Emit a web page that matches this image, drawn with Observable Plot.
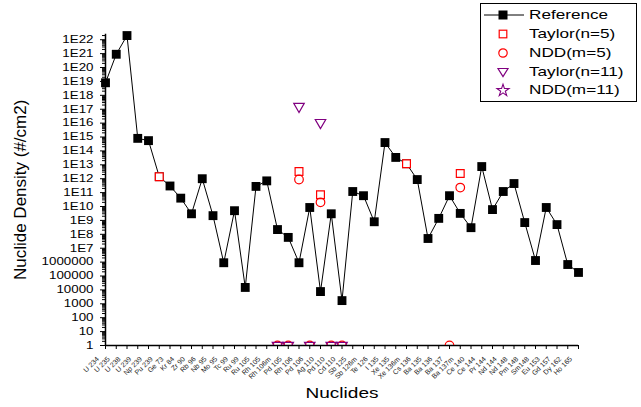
<!DOCTYPE html>
<html><head><meta charset="utf-8">
<script src="https://cdn.jsdelivr.net/npm/d3@7"></script>
<script src="https://cdn.jsdelivr.net/npm/@observablehq/plot@0.6"></script>
<style>
body{margin:0;background:#fff;font-family:"Liberation Sans",Arial,sans-serif;}
#wrap{position:relative;width:641px;height:407px;overflow:hidden;}
#legend{position:absolute;left:480px;top:3px;width:157px;height:99px;border:1px solid #000;box-sizing:border-box;background:#fff;}
.row{position:absolute;left:0;height:18px;width:100%;}
.row svg{position:absolute;left:0;top:0;}
.row span{position:absolute;left:48px;top:0;font-size:13.5px;line-height:18px;transform:scaleX(1.27);transform-origin:left center;white-space:nowrap;color:#000;}
</style></head>
<body>
<div id="wrap"><div id="chart"></div><div id="legend"></div></div>
<script>
const nuclides = ["U 234","U 235","U 238","U 239","Np 239","Pu 239","Ge 73","Kr 84","Zr 90","Rb 96","Nb 95","Mo 95","Tc 99","Ru 99","Ru 105","Rh 105","Rh 106m","Pd 105","Rh 106","Pd 106","Ag 110","Pd 110","Cd 110","Sb 125","Sb 126m","Te 126","I 135","Xe 135","Xe 136m","Cs 136","Ba 135","Ba 136","Ba 137","Ba 137m","Ce 140","Ce 144","Pr 144","Nd 144","Nd 148","Pm 148","Sm148","Eu 153","Gd 157","Dy 162","Ho 165"];
const referenceValues = [8e18,9e20,2e22,8e14,5.5e14,1.4e12,3e11,4e10,3e9,1e12,2.2e9,9e5,5e9,1.5e4,2.8e11,7e11,2.2e8,6e7,9e5,8.5e9,7.6e3,3e9,1.7e3,1.2e11,6e10,8e8,4e14,3.4e13,1.2e13,8.7e11,5e7,1.4e9,6e10,3.2e9,3e8,7.5e12,6e9,1.2e11,4.5e11,7e8,1.3e6,8.5e9,5e8,6.7e5,1.8e5];

const taylor5Nuclides = ["Pu 239","Rh 106","Ag 110","Xe 136m","Ba 137m"];
const taylor5Values = [1.4e12,3.3e12,7e10,1.2e13,2.4e12];

const ndd5Nuclides = ["Rh 106m","Pd 105","Rh 106","Pd 106","Ag 110","Pd 110","Cd 110","Ba 137","Ba 137m"];
const ndd5Values = [1,1,8.8e11,1,2e10,1,1,1,2.3e11];

const taylor11Nuclides = ["Rh 106m","Pd 105","Rh 106","Pd 106","Ag 110","Pd 110","Cd 110"];
const taylor11Values = [1,1,1.6e17,1,1.1e16,1,1];

const ndd11Nuclides = [];
const ndd11Values = [];

const yMajorExponents = d3.range(0, 23);
const yTitle = "Nuclide Density (#/cm2)";
const xTitle = "Nuclides";
const legendLabels = ["Reference","Taylor(n=5)","NDD(m=5)","Taylor(n=11)","NDD(m=11)"];

const RED = "#ff0000", PURPLE = "#800080";
const zip = (names, vals) => names.map((n, i) => ({nuclide: n, value: vals[i]}));
const refData = zip(nuclides, referenceValues);
const t5 = zip(taylor5Nuclides, taylor5Values);
const n5 = zip(ndd5Nuclides, ndd5Values);
const t11 = zip(taylor11Nuclides, taylor11Values);
const n11 = zip(ndd11Nuclides, ndd11Values);

const majors = yMajorExponents.map(e => Math.pow(10, e));
const minors = [];
for (const e of yMajorExponents) for (let k = 2; k <= 9; k++) { const v = k * Math.pow(10, e); if (v <= 2.5e22) minors.push(v); }
const fmt = v => { const e = Math.round(Math.log10(v)); return e >= 7 ? "1E" + e : String(Math.round(v)); };

const chart = Plot.plot({
  width: 641, height: 407,
  marginLeft: 105, marginRight: 63, marginTop: 33.7, marginBottom: 62,
  style: {fontFamily: "Liberation Sans, Arial, sans-serif", background: "#fff", color: "#000"},
  x: {type: "point", domain: nuclides, padding: 0},
  y: {type: "log", domain: [1, 2.5e22]},
  marks: [
    Plot.axisY({ticks: minors, tickSize: 3, tickFormat: () => "", label: null}),
    Plot.axisY({ticks: majors, tickSize: 5, tickPadding: 7, tickFormat: fmt, fontSize: 10.5, label: null}),
    Plot.axisX({tickSize: 4, tickFormat: () => "", label: null}),
    Plot.ruleY([1], {stroke: "#000", strokeWidth: 1.5}),
    Plot.ruleX([nuclides[0]], {stroke: "#000", strokeWidth: 1.5}),
    Plot.text(nuclides, {x: d => d, text: d => d, frameAnchor: "bottom", dy: 14, dx: -6, rotate: -45, textAnchor: "end", fontSize: 7, fill: "#222"}),
    Plot.text([yTitle], {text: d => d, frameAnchor: "left", dx: -85, rotate: -90, textAnchor: "middle", fontSize: 17}),
    Plot.text([xTitle], {text: d => d, frameAnchor: "bottom", dy: 52, textAnchor: "middle", fontSize: 15}),
    Plot.line(refData, {x: "nuclide", y: "value", stroke: "#000", strokeWidth: 1}),
    Plot.dot(refData, {x: "nuclide", y: "value", symbol: "square", r: 5, fill: "#000", stroke: "none"}),
    Plot.dot(t5, {x: "nuclide", y: "value", symbol: "square", r: 4.4, fill: "#fff", stroke: RED, strokeWidth: 1.2, clip: true}),
    Plot.dot(n5, {x: "nuclide", y: "value", symbol: "circle", r: 4.3, fill: "none", stroke: RED, strokeWidth: 1.2, clip: true}),
    Plot.dot(t11, {x: "nuclide", y: "value", symbol: "triangle", rotate: 180, r: 3.9, fill: "none", stroke: PURPLE, strokeWidth: 1.2, clip: true}),
    Plot.dot(n11, {x: "nuclide", y: "value", symbol: "star", r: 4, fill: "none", stroke: PURPLE, strokeWidth: 1.2, clip: true})
  ]
});
document.getElementById("chart").appendChild(chart);

// stretch non-rotated, non-empty text horizontally to mimic the reference's wide lettering
chart.querySelectorAll("text").forEach(t => {
  if (!t.textContent) return;
  let rotated = false;
  for (let el = t; el && el !== chart; el = el.parentNode) {
    const tr = el.getAttribute && el.getAttribute("transform");
    if (tr && tr.includes("rotate")) rotated = true;
  }
  if (rotated) return;
  const x = parseFloat(t.getAttribute("x")) || 0;
  const old = t.getAttribute("transform") || "";
  t.setAttribute("transform", `${old} translate(${x},0) scale(1.27,1) translate(${-x},0)`.trim());
});

// legend
const legend = document.getElementById("legend");
const centers = [11, 30, 49, 68, 86];
const sym = (i) => {
  const cx = 22, cy = 9;
  if (i === 0) return `<line x1="3" x2="43" y1="${cy}" y2="${cy}" stroke="#000" stroke-width="1"/><rect x="${cx-4.5}" y="${cy-4.5}" width="9" height="9" fill="#000"/>`;
  if (i === 1) return `<rect x="${cx-3.8}" y="${cy-3.8}" width="7.6" height="7.6" fill="#fff" stroke="${RED}" stroke-width="1.2"/>`;
  if (i === 2) return `<circle cx="${cx}" cy="${cy}" r="4.2" fill="none" stroke="${RED}" stroke-width="1.2"/>`;
  if (i === 3) return `<path d="M${cx-5},${cy-3.5}L${cx+5},${cy-3.5}L${cx},${cy+4.5}Z" fill="none" stroke="${PURPLE}" stroke-width="1.2"/>`;
  const p = d3.symbol(d3.symbolStar, 45)();
  return `<path transform="translate(${cx},${cy+0.5})" d="${p}" fill="none" stroke="${PURPLE}" stroke-width="1.1"/>`;
};
legendLabels.forEach((lab, i) => {
  const row = document.createElement("div");
  row.className = "row";
  row.style.top = (centers[i] - 9) + "px";
  row.innerHTML = `<svg width="48" height="18">${sym(i)}</svg><span>${lab}</span>`;
  legend.appendChild(row);
});
</script>
</body></html>
